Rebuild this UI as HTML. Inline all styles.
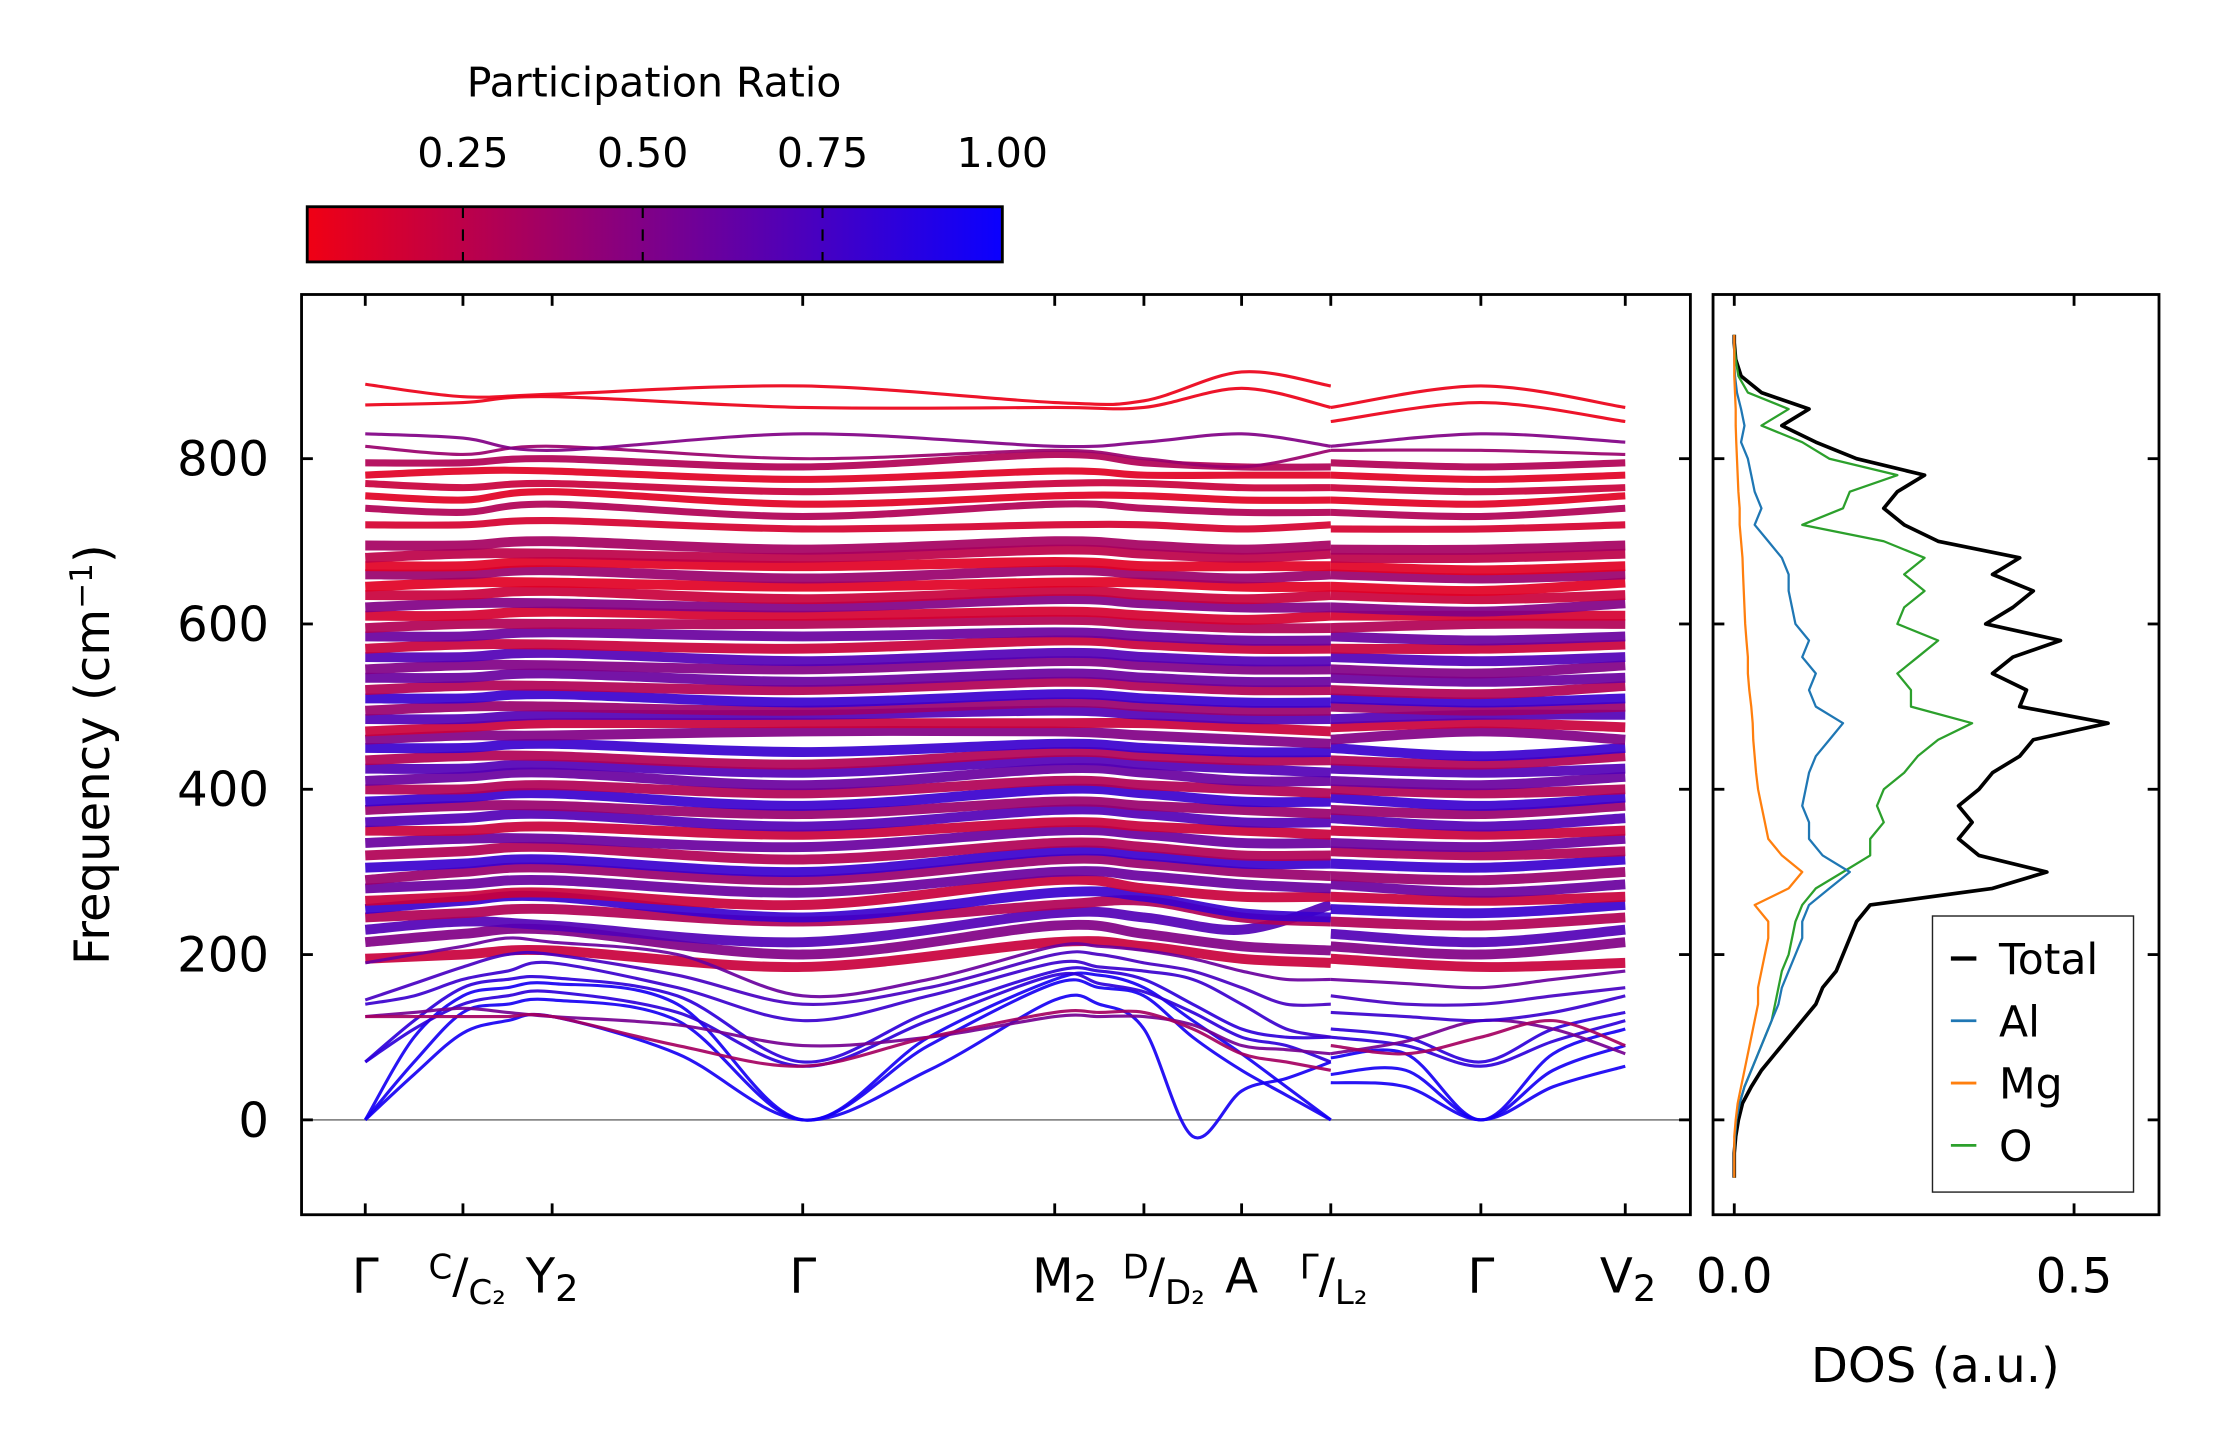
<!DOCTYPE html>
<html><head><meta charset="utf-8"><style>
html,body{margin:0;padding:0;background:#fff;}
svg{display:block;font-family:"DejaVu Sans","Liberation Sans",sans-serif;}
</style></head><body>
<svg id="fig" width="2222" height="1455" viewBox="0 0 1569.5 1027.7" xmlns="http://www.w3.org/2000/svg">
<defs>
<linearGradient id="cbg" x1="0" x2="1" y1="0" y2="0">
<stop offset="0" stop-color="rgb(240,0,20)"/><stop offset="0.5" stop-color="rgb(125,0,138)"/><stop offset="1" stop-color="rgb(10,0,255)"/>
</linearGradient>
<clipPath id="clipMain"><rect x="213" y="208" width="981" height="650"/></clipPath>
<clipPath id="clipDos"><rect x="1210" y="208" width="315" height="650"/></clipPath>
</defs>
<g id="colorbar">
<text x="462" y="68" font-size="29" text-anchor="middle">Participation Ratio</text>
<rect x="217" y="146" width="491" height="39" fill="url(#cbg)" stroke="#000" stroke-width="2"/>
</g>
<g id="main">
<g id="bands" clip-path="url(#clipMain)"></g>
<rect x="213" y="208" width="981" height="650" fill="none" stroke="#000" stroke-width="2"/>
<text transform="translate(77,533) rotate(-90)" font-size="34" text-anchor="middle">Frequency (cm<tspan dy="-12" font-size="22">−1</tspan><tspan dy="12">)</tspan></text>
</g>
<g id="dos">
<g id="dosLines" clip-path="url(#clipDos)"></g>
<rect x="1210" y="208" width="315" height="650" fill="none" stroke="#000" stroke-width="2"/>
<text x="1367" y="976" font-size="34" text-anchor="middle">DOS (a.u.)</text>
<g>
<rect x="1365" y="647" width="142" height="195" fill="#fff" stroke="#222" stroke-width="1"/>
<line x1="1378" x2="1396" y1="677" y2="677" stroke="#000" stroke-width="3"/><text x="1412" y="688" font-size="30">Total</text>
<line x1="1378" x2="1396" y1="721" y2="721" stroke="#1f77b4" stroke-width="2"/><text x="1412" y="732" font-size="30">Al</text>
<line x1="1378" x2="1396" y1="765" y2="765" stroke="#ff7f0e" stroke-width="2"/><text x="1412" y="776" font-size="30">Mg</text>
<line x1="1378" x2="1396" y1="809" y2="809" stroke="#2ca02c" stroke-width="2"/><text x="1412" y="820" font-size="30">O</text>
</g>
</g>
<g id="axesExtra"></g>
</svg>
<script>
const freqTicks = [0, 200, 400, 600, 800];
const cbTicks = [0.25, 0.50, 0.75, 1.00];
const cbTickLabels = ["0.25", "0.50", "0.75", "1.00"];
const kLabelPos = [0, 0.69, 1.32, 3.09, 4.87, 5.50, 6.19, 6.82, 7.88, 8.90];
const kLow = [0,0.345,0.69,1.005,1.32,2.205,3.09,3.98,4.87,5.185,5.50,5.845,6.19,6.505,6.82, 6.82,7.35,7.88,8.39,8.90];
const kMain = [0,0.69,1.32,3.09,4.87,5.50,6.19,6.82, 6.82,7.88,8.90];
const lowPR = [0.95,0.95,0.95,0.85,0.85,0.55,0.35,0.8,0.75,0.6];
const lowBands = [
[0,55,105,120,125,80,0,60,145,140,110,-20,35,50,70, 45,40,0,40,65],
[0,70,130,140,145,120,0,90,165,160,150,100,60,30,0, 55,60,0,60,90],
[0,100,150,160,165,140,0,100,170,175,160,120,80,40,0, 75,80,0,80,110],
[70,110,140,150,155,130,65,120,175,165,155,130,100,90,70, 100,90,65,95,120],
[70,120,160,170,172,150,70,130,180,180,170,140,110,100,100, 110,100,70,110,130],
[125,130,135,130,125,115,90,100,125,125,125,115,90,85,80, 80,95,120,110,80],
[125,125,125,125,125,90,65,100,130,130,130,110,80,70,60, 90,80,100,120,90],
[140,150,170,180,190,160,120,150,190,185,180,170,140,110,100, 130,125,120,130,150],
[145,165,185,200,200,175,140,160,200,200,190,180,160,140,140, 150,140,140,150,160],
[190,200,210,220,215,200,150,170,210,210,205,195,180,170,170, 170,165,160,170,180]
];
const mainPR = [0.2,0.5,0.7,0.3,0.8,0.2,0.6,0.4,0.8,0.3,0.6,0.2,0.7,0.4,0.8,0.3,0.6,0.7,0.3,0.8,0.5,0.2,0.7,0.4,0.8,0.3,0.6,0.5,0.7,0.2,0.6,0.3,0.15,0.5,0.2,0.1,0.4,0.1,0.25,0.35,0.15,0.3,0.1,0.2,0.1,0.3,0.4,0.5,0.05,0.05];
const mainBands = [
[195,200,205,185,215,210,195,190,195,185,190],
[215,225,230,200,235,225,210,205,210,200,215],
[230,240,235,215,250,245,230,260,225,215,230],
[245,250,255,240,260,265,245,240,240,235,245],
[255,265,270,245,275,270,250,245,255,250,260],
[265,270,275,260,290,280,270,270,270,265,270],
[280,285,290,275,300,295,285,280,285,275,285],
[290,300,305,290,315,310,300,295,295,290,300],
[305,310,315,300,325,320,310,310,310,305,315],
[320,325,330,315,335,330,320,320,325,320,325],
[335,340,340,330,350,345,335,335,335,330,340],
[350,350,355,345,360,355,350,345,350,345,350],
[360,365,370,355,375,370,360,360,365,355,365],
[375,380,380,370,385,380,375,370,375,370,380],
[385,390,395,380,400,395,385,385,390,380,390],
[400,400,405,395,410,405,400,395,400,395,400],
[410,415,420,405,425,420,410,410,410,405,415],
[425,425,430,420,435,430,425,420,425,420,425],
[435,440,440,430,445,440,435,435,435,430,440],
[450,450,455,445,455,450,445,445,450,440,450],
[460,465,465,470,470,465,460,455,460,470,460],
[470,475,480,480,480,480,475,470,475,480,475],
[485,485,490,490,495,490,485,485,485,490,490],
[495,500,500,495,505,500,495,495,500,495,500],
[510,510,515,505,515,510,505,505,510,505,510],
[520,525,525,520,530,525,520,520,520,515,525],
[535,535,540,530,540,535,530,530,535,530,535],
[545,550,550,545,555,550,545,545,545,540,550],
[560,560,565,555,565,560,555,555,560,555,560],
[570,575,575,570,580,575,570,570,570,570,575],
[585,585,590,585,590,585,580,580,585,580,585],
[595,600,600,600,605,600,595,595,595,600,600],
[610,610,615,610,615,610,605,610,610,610,610],
[620,625,625,620,630,625,620,620,620,615,625],
[635,635,640,630,640,635,630,635,635,630,635],
[645,650,650,645,650,650,645,645,645,640,650],
[660,660,665,655,665,660,655,660,660,655,660],
[670,670,675,670,675,670,670,670,670,665,670],
[680,685,685,680,690,685,680,685,680,680,685],
[695,695,700,690,700,695,690,695,690,690,695],
[720,720,725,715,720,720,715,720,715,715,720],
[740,735,745,730,745,740,735,735,735,730,740],
[755,750,760,745,755,755,750,750,750,745,755],
[770,765,770,760,770,770,765,765,765,760,765],
[780,785,785,775,785,780,780,780,780,775,780],
[795,795,800,790,805,795,790,790,795,790,795],
[815,805,815,800,810,800,790,810,810,810,805],
[830,825,810,830,815,820,830,815,815,830,820],
[890,875,878,888,868,870,905,888,862,888,862],
[865,868,875,862,862,862,885,862,845,868,845]
];
const dosFreq = [-60,-40,-20,0,20,40,60,80,100,120,140,160,180,200,220,240,260,280,300,320,340,360,380,400,420,440,460,480,500,520,540,560,580,600,620,640,660,680,700,720,740,760,780,800,820,840,860,880,900,920,940];
const dosTotal = [0,0,0.002,0.006,0.012,0.025,0.04,0.06,0.08,0.1,0.12,0.13,0.15,0.16,0.17,0.18,0.2,0.38,0.46,0.36,0.33,0.35,0.33,0.36,0.38,0.42,0.44,0.55,0.42,0.43,0.38,0.41,0.48,0.37,0.41,0.44,0.38,0.42,0.30,0.25,0.22,0.24,0.28,0.18,0.12,0.07,0.11,0.04,0.01,0.002,0];
const dosAl = [0,0,0.001,0.003,0.008,0.015,0.025,0.035,0.045,0.055,0.065,0.07,0.08,0.09,0.1,0.1,0.11,0.14,0.17,0.13,0.11,0.11,0.1,0.105,0.11,0.12,0.14,0.16,0.12,0.11,0.12,0.1,0.11,0.09,0.085,0.08,0.08,0.07,0.05,0.03,0.04,0.03,0.025,0.02,0.01,0.015,0.01,0.004,0.001,0,0];
const dosMg = [0,0,0,0.002,0.005,0.01,0.015,0.02,0.025,0.03,0.035,0.035,0.04,0.045,0.05,0.05,0.03,0.08,0.1,0.07,0.05,0.045,0.04,0.035,0.032,0.03,0.028,0.027,0.025,0.022,0.02,0.02,0.018,0.016,0.015,0.014,0.013,0.012,0.01,0.008,0.008,0.006,0.005,0.004,0.003,0.002,0.002,0.001,0,0,0];
const dosO = [0,0,0.001,0.003,0.008,0.015,0.025,0.035,0.045,0.055,0.06,0.065,0.07,0.08,0.085,0.09,0.1,0.12,0.16,0.2,0.2,0.22,0.21,0.22,0.25,0.27,0.3,0.35,0.26,0.26,0.24,0.27,0.3,0.24,0.25,0.28,0.25,0.28,0.22,0.1,0.16,0.17,0.24,0.14,0.1,0.04,0.08,0.02,0.006,0.002,0];

const NS = "http://www.w3.org/2000/svg";
const yS = f => 791 - f * 0.5838;
const xK = k => 258 + k * 100;
const xD = v => 1225 + v * 480;
function prColor(p){
  const t = Math.max(0, Math.min(1, (p - 0.035) / 0.965));
  const r = Math.round(240 + (10 - 240) * t), b = Math.round(20 + (255 - 20) * t);
  return `rgb(${r},0,${b})`;
}
function smoothPath(pts){
  let d = `M${pts[0][0].toFixed(1)},${pts[0][1].toFixed(1)}`;
  for (let i = 0; i < pts.length - 1; i++){
    const p0 = pts[Math.max(0,i-1)], p1 = pts[i], p2 = pts[i+1], p3 = pts[Math.min(pts.length-1,i+2)];
    const c1x = p1[0] + (p2[0]-p0[0])/6, c1y = p1[1] + (p2[1]-p0[1])/6;
    const c2x = p2[0] - (p3[0]-p1[0])/6, c2y = p2[1] - (p3[1]-p1[1])/6;
    d += ` C${c1x.toFixed(1)},${c1y.toFixed(1)} ${c2x.toFixed(1)},${c2y.toFixed(1)} ${p2[0].toFixed(1)},${p2[1].toFixed(1)}`;
  }
  return d;
}
function mk(tag, attrs, parent){
  const el = document.createElementNS(NS, tag);
  for (const k in attrs) el.setAttribute(k, attrs[k]);
  parent.appendChild(el);
  return el;
}
const bandsG = document.getElementById('bands');
const zl = mk('line', {x1:213, x2:1194, y1:yS(0), y2:yS(0), stroke:'#888', 'stroke-width':1.3}, bandsG);



function drawBand(ks, vals, split, pr, w, idx, kind){
  [[0, split], [split, ks.length]].forEach(([a, b]) => {
    const pts = [];
    for (let i = a; i < b; i++) pts.push([xK(ks[i]), yS(vals[i])]);
    const p = mk('path', {d: smoothPath(pts), fill:'none', stroke: prColor(pr), 'stroke-width': w, 'stroke-opacity': 0.92}, bandsG);
    
    
  });
}
mainBands.forEach((v, i) => drawBand(kMain, v, 8, mainPR[i], i >= 46 ? 2.2 : (i >= 40 ? 5 : 7), i, 'optical'));
lowBands.forEach((v, i) => drawBand(kLow, v, 15, lowPR[i], 2.2, i, 'low'));

const ax = document.getElementById('axesExtra');
freqTicks.forEach(f => {
  const y = yS(f);
  [[213,221],[1194,1186],[1210,1218],[1525,1517]].forEach(([a,b]) => {
    const t = mk('line', {x1:a, x2:b, y1:y, y2:y, stroke:'#000', 'stroke-width':2}, ax);
    
    
  });
  const lb = mk('text', {x:190, y:y+12, 'font-size':34, 'text-anchor':'end'}, ax);
  lb.textContent = String(f);
  
  
});
kLabelPos.forEach(k => {
  const x = xK(k);
  [[858,850],[208,216]].forEach(([a,b]) => {
    const t = mk('line', {x1:x, x2:x, y1:a, y2:b, stroke:'#000', 'stroke-width':2}, ax);
    
    
  });
});
const kLabels = [
  {x:258, html:'Γ'},
  {x:330, html:'<tspan font-size="24" dy="-10">C</tspan><tspan dy="10">/</tspan><tspan font-size="24" dy="8">C₂</tspan>'},
  {x:390, html:'Y<tspan font-size="26" dy="6">2</tspan>'},
  {x:567, html:'Γ'},
  {x:752, html:'M<tspan font-size="26" dy="6">2</tspan>'},
  {x:822, html:'<tspan font-size="24" dy="-10">D</tspan><tspan dy="10">/</tspan><tspan font-size="24" dy="8">D₂</tspan>'},
  {x:877, html:'A'},
  {x:942, html:'<tspan font-size="24" dy="-10">Γ</tspan><tspan dy="10">/</tspan><tspan font-size="24" dy="8">L₂</tspan>'},
  {x:1046, html:'Γ'},
  {x:1150, html:'V<tspan font-size="26" dy="6">2</tspan>'}
];
kLabels.forEach((l, i) => {
  const t = mk('text', {x:l.x, y:913, 'font-size':34, 'text-anchor':'middle'}, ax);
  t.innerHTML = l.html;
  
  
});
[0, 0.5].forEach(v => {
  const x = xD(v);
  [[858,850],[208,216]].forEach(([a,b]) => {
    const t = mk('line', {x1:x, x2:x, y1:a, y2:b, stroke:'#000', 'stroke-width':2}, ax);
    
    
  });
  const lb = mk('text', {x:x, y:913, 'font-size':34, 'text-anchor':'middle'}, ax);
  lb.textContent = v.toFixed(1);
  
  
});
const cbX = v => 217 + (v - 0.0335) / (1 - 0.0335) * 491;
cbTicks.forEach((v, i) => {
  const x = cbX(v);
  const t = mk('line', {x1:x, x2:x, y1:146, y2:185, stroke:'#000', 'stroke-width':1.5, 'stroke-dasharray':'8,8'}, ax);
  
  
  const lb = mk('text', {x:x, y:118, 'font-size':29, 'text-anchor':'middle'}, ax);
  lb.textContent = cbTickLabels[i];
  
  
});

const dosG = document.getElementById('dosLines');
const series = [
  {name:'dos-total-line', vals:dosTotal, color:'#000', w:2.6},
  {name:'dos-o-line', vals:dosO, color:'#2ca02c', w:1.6},
  {name:'dos-al-line', vals:dosAl, color:'#1f77b4', w:1.6},
  {name:'dos-mg-line', vals:dosMg, color:'#ff7f0e', w:1.6}
];
series.forEach(s => {
  const pts = dosFreq.map((f, i) => `${xD(s.vals[i]).toFixed(1)},${yS(f).toFixed(1)}`);
  pts.unshift(`${xD(0)},${yS(-70)}`);
  pts.push(`${xD(0)},${yS(950)}`);
  const p = mk('polyline', {points: pts.join(' '), fill:'none', stroke:s.color, 'stroke-width':s.w, 'stroke-linejoin':'round'}, dosG);
  
  
});
</script>
</body></html>
